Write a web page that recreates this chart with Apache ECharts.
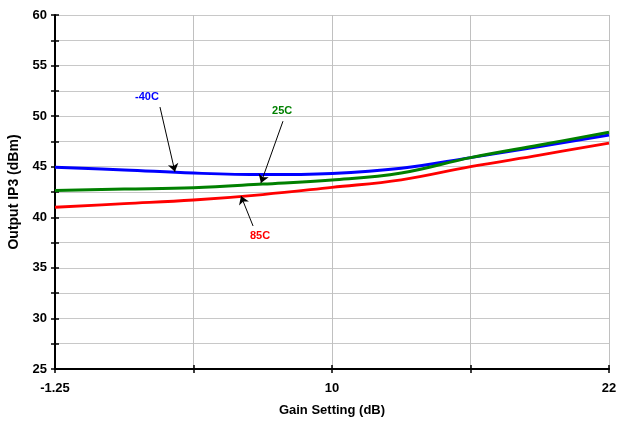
<!DOCTYPE html>
<html>
<head>
<meta charset="utf-8">
<script src="https://cdn.jsdelivr.net/npm/echarts@6/dist/echarts.min.js"></script>
<style>html,body{margin:0;padding:0;background:#fff}#c{width:617px;height:421px}</style>
</head>
<body>
<div id="c"></div>
<script>
// x positions (evenly spaced gain-setting axis, index units)
var xPos = [0, 0.5, 1, 1.5, 2, 2.5, 3, 3.5, 4];
var xTickLabels = ['-1.25', '', '10', '', '22'];
var seriesNames = ['-40C', '25C', '85C'];
var ip3_m40 = [44.94, 44.68, 44.37, 44.22, 44.34, 44.85, 45.9, 47.0, 48.14];
var ip3_25 = [42.66, 42.79, 42.92, 43.28, 43.69, 44.38, 45.9, 47.15, 48.4];
var ip3_85 = [40.99, 41.35, 41.71, 42.25, 42.96, 43.7, 45.0, 46.15, 47.33];
// annotation: [label pos x, y], [arrow start x, y], [arrow tip x, y]
var annM40 = [[0.664, 51.9], [0.758, 50.9], [0.866, 44.5]];
var ann25 = [[1.64, 50.5], [1.646, 49.5], [1.487, 43.4]];
var ann85 = [[1.48, 38.15], [1.43, 39.14], [1.343, 42.1]];

function pairs(xs, ys) { return xs.map(function (x, i) { return [x, ys[i]]; }); }
var font = 'Liberation Sans, Arial, sans-serif';

function mkSeries(name, ys, color, width, ann) {
  return {
    name: name, type: 'line', smooth: 0.4, showSymbol: false,
    data: pairs(xPos, ys),
    lineStyle: { color: color, width: width },
    itemStyle: { color: color },
    z: 3,
    markLine: {
      silent: true, symbol: ['none', 'arrow'], symbolSize: 8,
      lineStyle: { color: '#000', width: 1, type: 'solid' },
      itemStyle: { color: '#000' },
      label: { show: false },
      data: [[{ coord: ann[1] }, { coord: ann[2] }]]
    },
    markPoint: {
      silent: true, symbol: 'circle', symbolSize: 0,
      label: { show: true, formatter: name, color: color, fontFamily: font, fontWeight: 'bold', fontSize: 11, position: 'inside' },
      data: [{ coord: ann[0] }]
    }
  };
}

var chart = echarts.init(document.getElementById('c'));
chart.setOption({
  backgroundColor: '#fff',
  animation: false,
  grid: { left: 55, right: 8, top: 15, bottom: 52, containLabel: false, outerBoundsMode: 'none' },
  xAxis: [{
    type: 'value', min: 0, max: 4, interval: 1,
    name: 'Gain Setting (dB)', nameLocation: 'middle', nameGap: 35,
    nameTextStyle: { fontFamily: font, fontWeight: 'bold', fontSize: 13, color: '#000' },
    axisLine: { lineStyle: { color: '#000', width: 2 } },
    axisTick: { show: true, length: 4, lineStyle: { color: '#000', width: 1.5 } },
    axisLabel: { formatter: function (v) { return xTickLabels[Math.round(v)] || ''; }, fontFamily: font, fontWeight: 'bold', fontSize: 13, color: '#000', margin: 13 },
    splitLine: { show: true, lineStyle: { color: '#c0c0c0', width: 1 } }
  }, {
    type: 'value', min: 0, max: 4, interval: 1, position: 'bottom',
    axisLine: { show: false }, axisLabel: { show: false }, splitLine: { show: false },
    axisTick: { show: true, inside: true, length: 4, lineStyle: { color: '#000', width: 1.5 } }
  }],
  yAxis: [{
    type: 'value', min: 25, max: 60, interval: 2.5,
    name: 'Output IP3 (dBm)', nameLocation: 'middle', nameGap: 34,
    nameTextStyle: { fontFamily: font, fontWeight: 'bold', fontSize: 14, color: '#000' },
    axisLine: { show: true, lineStyle: { color: '#000', width: 2 } },
    axisTick: { show: true, length: 4, lineStyle: { color: '#000', width: 1.5 } },
    axisLabel: { formatter: function (v) { return v % 5 === 0 ? String(v) : ''; }, fontFamily: font, fontWeight: 'bold', fontSize: 13, color: '#000', margin: 8 },
    splitLine: { show: true, lineStyle: { color: '#c8c8c8', width: 1 } }
  }, {
    type: 'value', min: 25, max: 60, interval: 2.5, position: 'left',
    axisLine: { show: false }, axisLabel: { show: false }, splitLine: { show: false },
    axisTick: { show: true, inside: true, length: 4, lineStyle: { color: '#000', width: 1.5 } }
  }],
  series: [
    mkSeries(seriesNames[2], ip3_85, '#ff0000', 2.8, ann85),
    mkSeries(seriesNames[0], ip3_m40, '#0000ff', 3, annM40),
    mkSeries(seriesNames[1], ip3_25, '#008000', 3, ann25)
  ]
});
</script>
</body>
</html>
